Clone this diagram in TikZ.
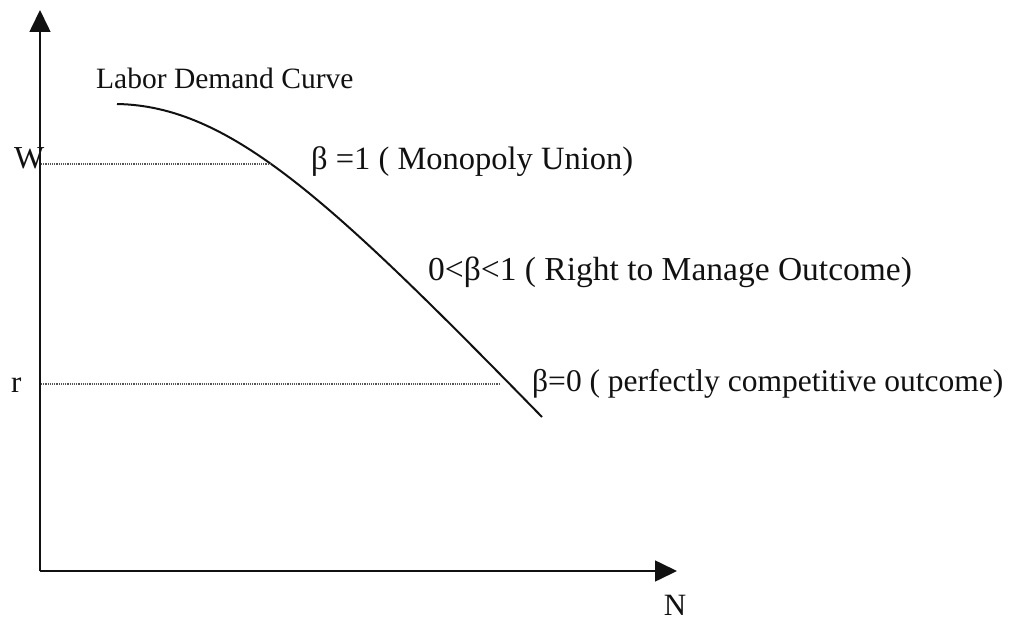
\documentclass[tikz,border=0pt]{standalone}
\usepackage{fontspec}
\setmainfont{Liberation Serif}
\usepackage{tikz}
\usetikzlibrary{arrows.meta,positioning,calc}
\usepackage{xcolor}
\definecolor{ink}{HTML}{111111}
\definecolor{dotgray}{HTML}{555555}
\tikzset{
  axis/.style={draw=ink,line width=1.6pt,-{Triangle[length=22pt,width=21pt]}},
  demand/.style={draw=ink,line width=2pt},
  guide/.style={draw=dotgray,line width=1.2pt,dash pattern=on 1.2pt off 1pt},
  lbl/.style={inner sep=0pt,anchor=base west,text=ink,font=\fontsize{31}{36}\selectfont},
  big/.style={font=\fontsize{#1}{36}\selectfont}
}

\begin{document}
\begin{tikzpicture}[x=1pt,y=-1pt]
  \useasboundingbox (0,0) rectangle (1030,620);
  % axes
  \coordinate (O) at (40,571);
  \coordinate (ytip) at (40,10);
  \coordinate (xtip) at (677,571);
  \draw[axis] (O)--(ytip);
  \draw[axis] (O)--(xtip);
  % demand curve
  \coordinate (d0) at (117,104);
  \coordinate (d1) at (542,417);
  \draw[demand] (d0) .. controls (230,106) and (330,200) .. (d1);
  % wage levels
  \coordinate (wa) at (41,164);
  \coordinate (wb) at (272,164);
  \coordinate (ra) at (41,384);
  \coordinate (rb) at (500,384);
  \draw[guide] (wa)--(wb);
  \draw[guide] (ra)--(rb);
  % labels
  \node[lbl,big=29.5] (ldc) at (96,89) {Labor Demand Curve};
  \node[lbl,big=32] (wl) at (14,169) {W};
  \node[lbl] (rl) at (11,392) {r};
  \node[lbl,big=32.5] (b1) at (311,170) {β =1 ( Monopoly Union)};
  \node[lbl,big=33.5] (bm) at (428,280) {0<β<1 ( Right to Manage Outcome)};
  \node[lbl,big=31.5] (b0) at (532,391) {β=0 ( perfectly competitive outcome)};
  \node[lbl,anchor=base] (nl) at (675,615) {N};
\end{tikzpicture}
\end{document}
